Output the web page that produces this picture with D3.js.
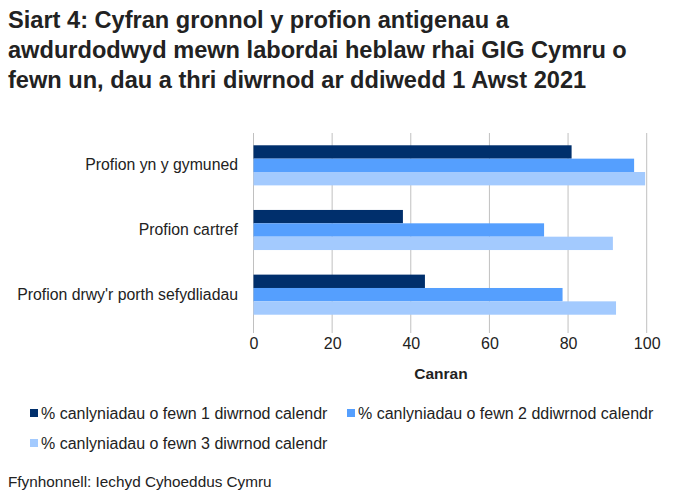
<!DOCTYPE html><html><head><meta charset="utf-8"><script src="https://cdn.jsdelivr.net/npm/d3@7"></script>
<style>body{margin:0;background:#fff;font-family:"Liberation Sans",Arial,sans-serif}</style></head><body><svg id="c" width="681" height="500"></svg>
<script>
const categories=["Profion yn y gymuned","Profion cartref","Profion drwy'r porth sefydliadau"];
const series=["% canlyniadau o fewn 1 diwrnod calendr","% canlyniadau o fewn 2 ddiwrnod calendr","% canlyniadau o fewn 3 diwrnod calendr"];
const day1=[80.9,38.0,43.6];
const day2=[96.8,73.9,78.6];
const day3=[99.6,91.4,92.2];
const ticks=[0,20,40,60,80,100];
const colors=["#002f6c","#559ffe","#a3cafe"];
const svg=d3.select("#c");
const title=["Siart 4: Cyfran gronnol y profion antigenau a","awdurdodwyd mewn labordai heblaw rhai GIG Cymru o","fewn un, dau a thri diwrnod ar ddiwedd 1 Awst 2021"];
title.forEach((t,i)=>svg.append("text").attr("x",8).attr("y",28+i*30).attr("font-size",23.6).attr("font-weight","bold").attr("fill","#222").text(t));
const x=d3.scaleLinear().domain([0,100]).range([253.5,646.7]);
const y=d3.scaleBand().domain(categories).range([133,327]).paddingInner(0.38).paddingOuter(0.19);
const y1=d3.scaleBand().domain([0,1,2]).range([0,y.bandwidth()]);
const g=svg.append("g");
g.selectAll(".grid").data(ticks).join("line").attr("x1",d=>x(d)).attr("x2",d=>x(d)).attr("y1",133).attr("y2",333).attr("stroke","#c0c0c0").attr("stroke-width",1);
const vals=[day1,day2,day3];
vals.forEach((arr,s)=>{
 g.selectAll(".b"+s).data(arr).join("rect").attr("x",x(0)).attr("y",(d,i)=>y(categories[i])+y1(s)).attr("width",d=>x(d)-x(0)).attr("height",y1.bandwidth()).attr("fill",colors[s]);
});
const ax=svg.append("g").attr("transform","translate(0,333)").call(d3.axisBottom(x).tickValues(ticks).tickSize(0).tickPadding(5));
ax.select(".domain").remove();
ax.selectAll("text").attr("font-size",16).attr("font-family","Liberation Sans, Arial").attr("fill","#222");
const ay=svg.append("g").attr("transform","translate(238,0)").call(d3.axisLeft(y).tickSize(0).tickPadding(0));
ay.select(".domain").remove();
ay.selectAll("text").attr("font-size",15.8).attr("font-family","Liberation Sans, Arial").attr("fill","#222");
svg.append("text").attr("x",441).attr("y",379).attr("text-anchor","middle").attr("font-size",15.5).attr("font-weight","bold").attr("fill","#222").text("Canran");
const leg=[[30,419],[347,419],[30,449]];
series.forEach((s,i)=>{
 svg.append("rect").attr("x",leg[i][0]).attr("y",leg[i][1]-10).attr("width",8).attr("height",8).attr("fill",colors[i]);
 svg.append("text").attr("x",leg[i][0]+11).attr("y",leg[i][1]).attr("font-size",16).attr("fill","#222").text(s);
});
svg.append("text").attr("x",8).attr("y",487).attr("font-size",15.3).attr("fill","#222").text("Ffynhonnell: Iechyd Cyhoeddus Cymru");
</script></body></html>
